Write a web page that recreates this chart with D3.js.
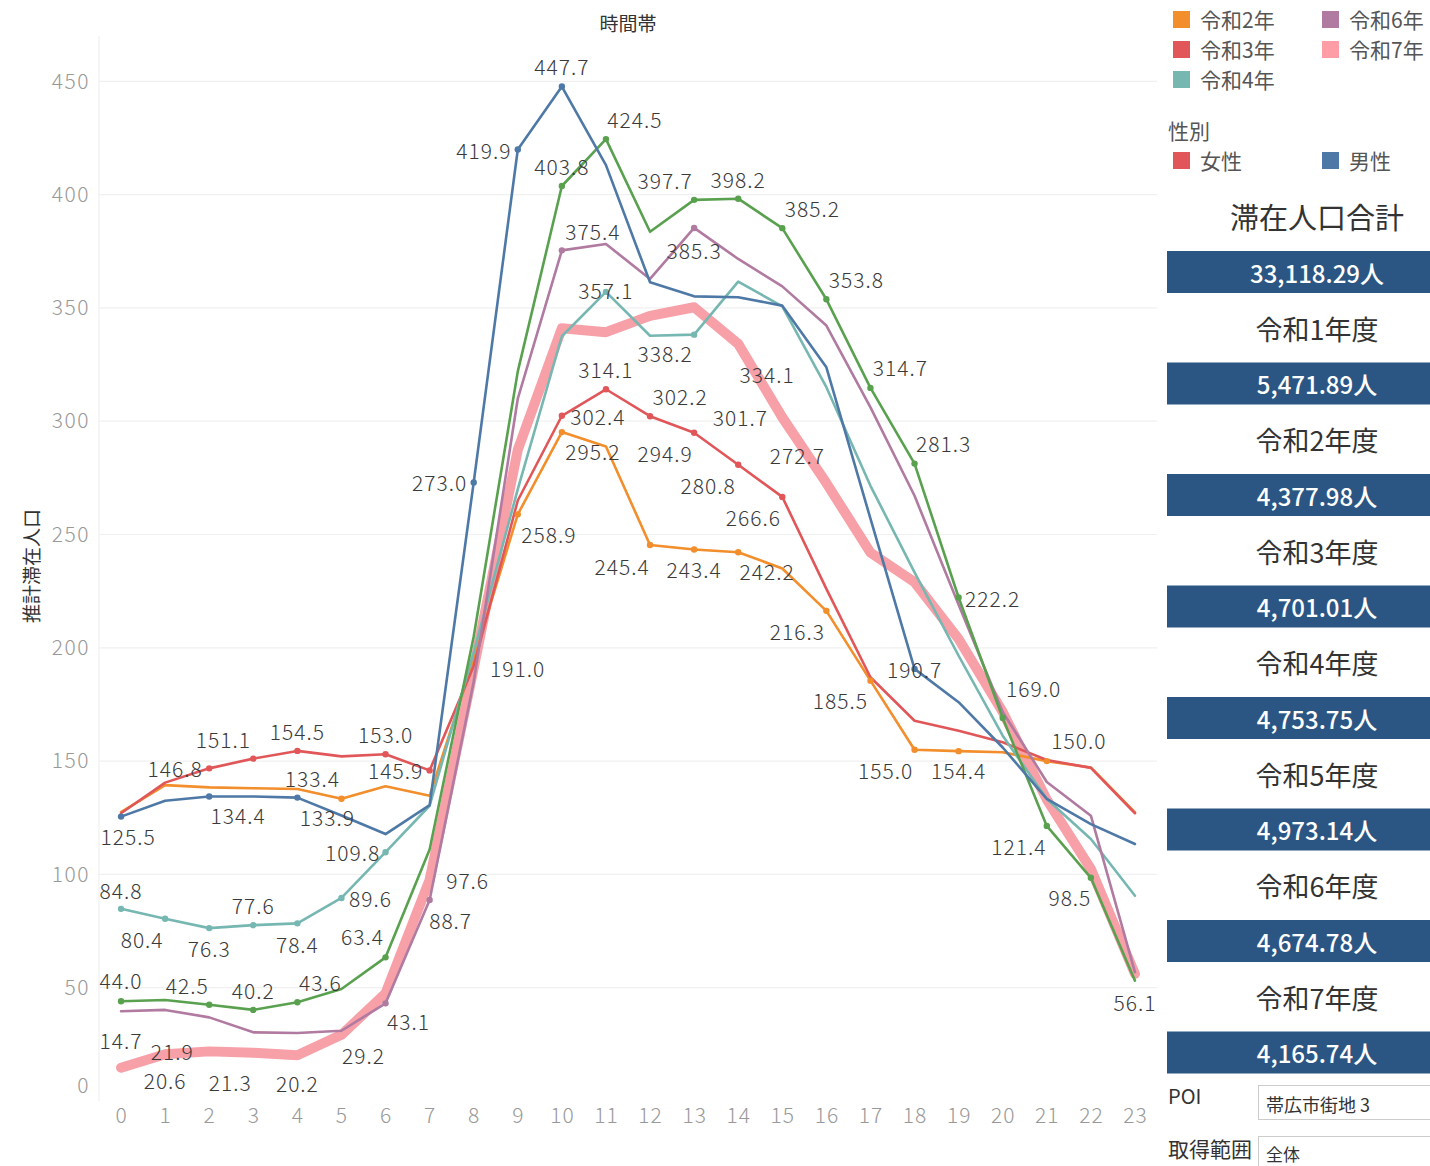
<!DOCTYPE html>
<html><head><meta charset="utf-8">
<script src="https://cdn.jsdelivr.net/npm/d3@7"></script>
<style>body{margin:0;background:#fff}svg{display:block}</style>
</head><body>
<script>
// ---------- data ----------
const hours = [0,1,2,3,4,5,6,7,8,9,10,11,12,13,14,15,16,17,18,19,20,21,22,23];
const yTicks = [0,50,100,150,200,250,300,350,400,450];

const reiwa2 = [127.5,139.4,138.4,138.0,137.7,133.4,138.9,134.7,195.0,258.9,295.2,288.8,245.4,243.4,242.2,235.0,216.3,185.5,155.0,154.4,153.9,150.0,147.2,127.4];
const reiwa3 = [127.0,140.5,146.8,151.1,154.5,152.1,153.0,145.9,192.0,265.0,302.4,314.1,302.2,294.9,280.8,266.6,226.0,187.0,167.8,163.4,158.3,150.5,147.0,127.0];
const reiwa4 = [84.8,80.4,76.3,77.6,78.4,89.6,109.8,130.3,198.0,270.0,337.5,357.1,337.7,338.2,361.6,350.7,315.0,271.5,233.3,196.5,161.2,133.3,115.6,90.6];
const reiwa5 = [44.0,44.6,42.5,40.2,43.6,49.4,63.4,111.0,205.0,322.0,403.8,424.5,383.6,397.7,398.2,385.2,353.8,314.7,281.3,222.2,169.0,121.4,98.5,53.1];
const reiwa6 = [39.6,40.2,36.9,30.3,30.0,31.0,43.1,88.7,185.0,310.0,375.4,378.2,362.8,385.3,371.6,359.5,342.2,306.1,267.1,219.0,171.7,140.8,125.9,56.9];
const reiwa7 = [14.7,20.6,21.9,21.3,20.2,29.2,47.5,97.6,191.0,287.4,341.0,339.3,346.5,350.3,334.1,301.7,272.7,242.0,229.0,203.9,171.7,133.0,102.4,56.1];
const male   = [125.5,132.5,134.4,134.4,133.9,126.0,117.8,130.6,273.0,419.9,447.7,413.0,361.3,355.1,354.7,351.0,323.8,257.0,190.7,176.0,156.0,133.3,122.2,113.4];

const yearLegend = ["令和2年","令和3年","令和4年","令和6年","令和7年"];
const genderLegend = ["女性","男性"];
const totalYears = ["令和1年度","令和2年度","令和3年度","令和4年度","令和5年度","令和6年度","令和7年度"];
const grandTotal = "33,118.29人";
const yearTotals = ["5,471.89人","4,377.98人","4,701.01人","4,753.75人","4,973.14人","4,674.78人","4,165.74人"];

// ---------- styling / layout ----------
const seriesDefs = [
  {key:"reiwa7", values:reiwa7, color:"#f7a0a8", width:10},
  {key:"reiwa2", values:reiwa2, color:"#f28e2b", width:2.6},
  {key:"reiwa3", values:reiwa3, color:"#e15759", width:2.6},
  {key:"reiwa4", values:reiwa4, color:"#76b7b2", width:2.6},
  {key:"reiwa6", values:reiwa6, color:"#b07aa1", width:2.6},
  {key:"reiwa5", values:reiwa5, color:"#59a14f", width:2.6},
  {key:"male",   values:male,   color:"#4e79a7", width:2.6}
];
const legendColors = ["#f28e2b","#e15759","#76b7b2","#b07aa1","#ff9da7"];
const genderColors = ["#e15759","#4e79a7"];

// label placement: [series, hour, dx, dy]
const labelSpots = [
  ["male",0,7,19],["male",2,29,19],["male",4,30,19],["male",8,-34,0],["male",9,-34,0],["male",10,0,-21],["male",18,0,0],
  ["reiwa5",0,0,-21],["reiwa5",2,-22,-20],["reiwa5",3,0,-20],["reiwa5",4,23,-20],["reiwa5",6,-23,-21],["reiwa5",10,0,-20],
  ["reiwa5",11,29,-20],["reiwa5",13,-29,-20],["reiwa5",14,0,-20],["reiwa5",15,30,-20],["reiwa5",16,30,-20],["reiwa5",17,30,-21],
  ["reiwa5",18,29,-21],["reiwa5",19,34,0],["reiwa5",20,31,-30],["reiwa5",21,-28,20],["reiwa5",22,-21,19],
  ["reiwa2",5,-29,-21],["reiwa2",9,31,20],["reiwa2",10,31,19],["reiwa2",12,-28,21],["reiwa2",13,0,20],["reiwa2",14,29,19],
  ["reiwa2",16,-29,20],["reiwa2",17,-30,19],["reiwa2",18,-29,20],["reiwa2",19,0,19],["reiwa2",21,32,-21],
  ["reiwa3",2,-34,0],["reiwa3",3,-30,-20],["reiwa3",4,0,-20],["reiwa3",6,0,-20],["reiwa3",7,-34,0],["reiwa3",10,36,0],
  ["reiwa3",11,0,-20],["reiwa3",12,30,-20],["reiwa3",13,-29,20],["reiwa3",14,-30,20],["reiwa3",15,-29,20],
  ["reiwa4",0,0,-19],["reiwa4",1,-23,20],["reiwa4",2,0,20],["reiwa4",3,0,-20],["reiwa4",4,0,21],["reiwa4",5,29,0],
  ["reiwa4",6,-33,0],["reiwa4",11,0,-2],["reiwa4",13,-29,18],
  ["reiwa6",6,23,18],["reiwa6",7,21,20],["reiwa6",10,31,-19],["reiwa6",13,0,22],
  ["reiwa7",0,0,-28],["reiwa7",1,0,26],["reiwa7",2,-37,0],["reiwa7",3,-23,29],["reiwa7",4,0,28],["reiwa7",5,22,20],
  ["reiwa7",7,38,0],["reiwa7",8,44,0],["reiwa7",14,29,30],["reiwa7",15,-42,0],["reiwa7",16,-29,-28],["reiwa7",23,0,28]
];

const W = 1430, H = 1166;
const FONT = "'Noto Sans CJK JP','Noto Sans',sans-serif";
const svg = d3.select("body").append("svg").attr("width",W).attr("height",H)
  .style("font-family",FONT);

const plot = {left:99, right:1157, top:36, bottom:1101};
const x = d3.scalePoint().domain(hours).range([plot.left, plot.right]).padding(0.5);
const y = d3.scaleLinear().domain([0,470]).range([plot.bottom, plot.top]);

// gridlines
svg.append("g").selectAll("line").data(yTicks.filter(d=>d>0)).join("line")
  .attr("x1",plot.left).attr("x2",plot.right)
  .attr("y1",d=>y(d)).attr("y2",d=>y(d))
  .attr("stroke","#f0f0f0").attr("stroke-width",1.2);
svg.append("line").attr("x1",plot.left).attr("x2",plot.left)
  .attr("y1",plot.top).attr("y2",plot.bottom).attr("stroke","#f0f0f0").attr("stroke-width",1.2);

// y axis
const yAxis = d3.axisLeft(y).tickValues(yTicks).tickSize(0).tickPadding(10);
const gy = svg.append("g").attr("transform",`translate(${plot.left},0)`).call(yAxis);
gy.select(".domain").remove();
gy.selectAll("text").attr("fill","#999").style("font-size","21px").style("font-family",FONT)
  .style("font-weight","300").style("letter-spacing","1.5px")
  .attr("x",-9)
  .attr("dy",d=>d===0?"-0.4em":"0.32em");

// x axis
const xAxis = d3.axisBottom(x).tickSize(0).tickPadding(10);
const gx = svg.append("g").attr("transform",`translate(0,${plot.bottom})`).call(xAxis);
gx.select(".domain").remove();
gx.selectAll("text").attr("fill","#999").style("font-size","21px").style("font-family",FONT)
  .style("font-weight","300").style("letter-spacing","1px").attr("dy","0.55em");

// titles
svg.append("text").attr("x",628).attr("y",22).attr("text-anchor","middle").attr("dominant-baseline","central")
  .attr("fill","#333").style("font-size","19px").text("時間帯");
svg.append("text").attr("transform","translate(30,566) rotate(-90)").attr("text-anchor","middle")
  .attr("dominant-baseline","central").attr("fill","#333").style("font-size","19px").text("推計滞在人口");

// lines
const line = d3.line().x((d,i)=>x(hours[i])).y(d=>y(d));
const byKey = {};
seriesDefs.forEach(s=>{ byKey[s.key]=s; });
svg.append("g").selectAll("path").data(seriesDefs).join("path")
  .attr("d",d=>line(d.values)).attr("fill","none")
  .attr("stroke",d=>d.color).attr("stroke-width",d=>d.width)
  .attr("stroke-linejoin","round").attr("stroke-linecap","round");

// points at labelled positions
const pts = labelSpots.map(([k,h,dx,dy])=>({s:byKey[k],h,dx,dy}));
svg.append("g").selectAll("circle").data(pts.filter(p=>p.s.key!=="reiwa7")).join("circle")
  .attr("cx",p=>x(hours[p.h])).attr("cy",p=>y(p.s.values[p.h])).attr("r",3.2)
  .attr("fill",p=>p.s.color);

// value labels
svg.append("g").selectAll("text").data(pts).join("text")
  .attr("x",p=>x(hours[p.h])+p.dx).attr("y",p=>y(p.s.values[p.h])+p.dy)
  .attr("text-anchor","middle").attr("dominant-baseline","central")
  .attr("fill","#3a3a3a").style("font-size","21px").style("font-weight","300").style("letter-spacing","1px")
  .text(p=>p.s.values[p.h].toFixed(1));

// ---------- legends ----------
const lg = svg.append("g");
const legPos = [[1173,19],[1173,49],[1173,79],[1322,19],[1322,49]];
yearLegend.forEach((t,i)=>{
  const [lx,ly]=legPos[i];
  lg.append("rect").attr("x",lx).attr("y",ly-8).attr("width",17).attr("height",17).attr("fill",legendColors[i]);
  lg.append("text").attr("x",lx+27).attr("y",ly).attr("dominant-baseline","central")
    .attr("fill","#555").style("font-size","21px").text(t);
});
lg.append("text").attr("x",1168).attr("y",130).attr("dominant-baseline","central")
  .attr("fill","#555").style("font-size","21px").text("性別");
genderLegend.forEach((t,i)=>{
  const lx = i===0?1173:1322, ly=160;
  lg.append("rect").attr("x",lx).attr("y",ly-8).attr("width",17).attr("height",17).attr("fill",genderColors[i]);
  lg.append("text").attr("x",lx+27).attr("y",ly).attr("dominant-baseline","central")
    .attr("fill","#555").style("font-size","21px").text(t);
});

// ---------- totals panel ----------
const panel = svg.append("g");
panel.append("text").attr("x",1317).attr("y",216).attr("text-anchor","middle").attr("dominant-baseline","central")
  .attr("fill","#333").style("font-size","29px").text("滞在人口合計");
const boxes = [grandTotal].concat(yearTotals);
boxes.forEach((t,i)=>{
  const by = 251 + i*111.5;
  panel.append("rect").attr("x",1167).attr("y",by).attr("width",263).attr("height",42).attr("fill","#2b5683");
  panel.append("text").attr("x",1317).attr("y",by+21).attr("text-anchor","middle").attr("dominant-baseline","central")
    .attr("fill","#fff").style("font-size","24px").style("font-weight","500").text(t);
});
totalYears.forEach((t,i)=>{
  panel.append("text").attr("x",1317).attr("y",328 + i*111.5).attr("text-anchor","middle").attr("dominant-baseline","central")
    .attr("fill","#333").style("font-size","27px").text(t);
});

// ---------- filters ----------
const f = svg.append("g");
f.append("text").attr("x",1168).attr("y",1095).attr("dominant-baseline","central").attr("fill","#333")
  .style("font-size","20px").text("POI");
f.append("rect").attr("x",1258.5).attr("y",1085.5).attr("width",180).attr("height",34).attr("fill","#fff").attr("stroke","#ccc");
f.append("text").attr("x",1266).attr("y",1104).attr("dominant-baseline","central").attr("fill","#333")
  .style("font-size","18px").text("帯広市街地 3");
f.append("text").attr("x",1168).attr("y",1148).attr("dominant-baseline","central").attr("fill","#333")
  .style("font-size","21px").text("取得範囲");
f.append("rect").attr("x",1258.5).attr("y",1136.5).attr("width",180).attr("height",40).attr("fill","#fff").attr("stroke","#ccc");
f.append("text").attr("x",1266).attr("y",1153).attr("dominant-baseline","central").attr("fill","#333")
  .style("font-size","17px").text("全体");
</script>
</body></html>
